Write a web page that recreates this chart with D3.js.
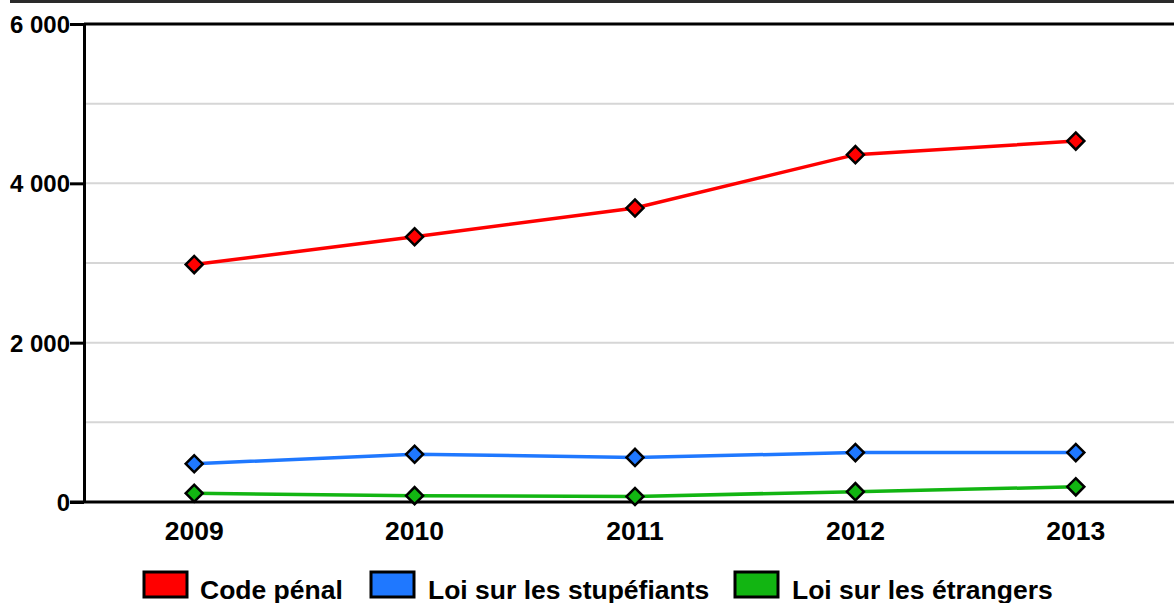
<!DOCTYPE html>
<html>
<head>
<meta charset="utf-8">
<script src="https://cdn.jsdelivr.net/npm/d3@7"></script>
<style>
  html, body { margin: 0; padding: 0; background: #fff; }
  svg { display: block; font-family: "Liberation Sans", Arial, sans-serif; }
</style>
</head>
<body>
<svg id="chart" width="1174" height="603"></svg>
<script>
// Years on the horizontal axis
const years = ["2009", "2010", "2011", "2012", "2013"];

// Series values (number of cases per year)
const codePenal = [2980, 3330, 3690, 4360, 4530];
const loiStupefiants = [480, 600, 560, 620, 620];
const loiEtrangers = [110, 80, 70, 130, 190];

const seriesNames = ["Code pénal", "Loi sur les stupéfiants", "Loi sur les étrangers"];
const seriesColors = ["#ff0000", "#1f78ff", "#12b512"];

// Axis ticks
const yTickValues = [0, 2000, 4000, 6000];
const yGridValues = [1000, 2000, 3000, 4000, 5000];

const series = [codePenal, loiStupefiants, loiEtrangers].map((vals, i) => ({
  name: seriesNames[i],
  color: seriesColors[i],
  values: vals.map((v, j) => ({ year: years[j], value: v }))
}));

const svg = d3.select("#chart");
const W = 1174;
const plotLeft = 84, plotTop = 24, plotBottom = 502, plotRight = 1186;

const x = d3.scalePoint().domain(years).range([plotLeft, plotRight]).padding(0.5);
const y = d3.scaleLinear().domain([0, 6000]).range([plotBottom, plotTop]);

const fr = d3.formatLocale({ decimal: ",", thousands: " ", grouping: [3], currency: ["", " €"] });
const fmt = fr.format(",d");

// top frame rule
svg.append("line")
  .attr("x1", 10).attr("x2", W).attr("y1", 1.5).attr("y2", 1.5)
  .attr("stroke", "#2a2a2a").attr("stroke-width", 3);

// light horizontal grid
svg.append("g").selectAll("line").data(yGridValues).join("line")
  .attr("x1", plotLeft).attr("x2", W)
  .attr("y1", d => y(d)).attr("y2", d => y(d))
  .attr("stroke", "#d6d6d6").attr("stroke-width", 2);

// upper limit rule
svg.append("line")
  .attr("x1", plotLeft).attr("x2", W).attr("y1", y(6000)).attr("y2", y(6000))
  .attr("stroke", "#000").attr("stroke-width", 3);

// y axis
const yAxis = svg.append("g")
  .attr("transform", `translate(${plotLeft},0)`)
  .call(d3.axisLeft(y).tickValues(yTickValues).tickSize(14).tickSizeOuter(0).tickFormat(fmt));
yAxis.select(".domain").attr("stroke", "#000").attr("stroke-width", 3);
yAxis.selectAll(".tick line").attr("stroke", "#000").attr("stroke-width", 3);
yAxis.selectAll(".tick text")
  .attr("x", -14).attr("dy", "0.36em")
  .attr("fill", "#000").attr("font-size", 24).attr("font-weight", "bold")
  .attr("font-family", "Liberation Sans, Arial, sans-serif");

// x baseline
svg.append("line")
  .attr("x1", 70).attr("x2", W).attr("y1", y(0)).attr("y2", y(0))
  .attr("stroke", "#000").attr("stroke-width", 3);

// x labels
svg.append("g").selectAll("text").data(years).join("text")
  .attr("x", d => x(d)).attr("y", 540)
  .attr("text-anchor", "middle")
  .attr("font-size", 26.5).attr("font-weight", "bold").attr("fill", "#000")
  .text(d => d);

// series lines
const line = d3.line().x(d => x(d.year)).y(d => y(d.value));
svg.append("g").selectAll("path").data(series).join("path")
  .attr("d", d => line(d.values))
  .attr("fill", "none")
  .attr("stroke", d => d.color)
  .attr("stroke-width", 3.5);

// diamond markers
const diamond = d3.symbol().type(d3.symbolSquare).size(145);
const mk = svg.append("g");
series.forEach(s => {
  mk.selectAll(null).data(s.values).join("path")
    .attr("d", diamond)
    .attr("transform", d => `translate(${x(d.year)},${y(d.value)}) rotate(45)`)
    .attr("fill", s.color)
    .attr("stroke", "#000")
    .attr("stroke-width", 2.5);
});

// legend
const legendItems = [
  { x: 144, tx: 200 },
  { x: 371, tx: 428 },
  { x: 735, tx: 792 }
];
const lg = svg.append("g");
series.forEach((s, i) => {
  lg.append("rect")
    .attr("x", legendItems[i].x).attr("y", 572)
    .attr("width", 43).attr("height", 25)
    .attr("fill", s.color).attr("stroke", "#000").attr("stroke-width", 3);
  lg.append("text")
    .attr("x", legendItems[i].tx).attr("y", 599)
    .attr("font-size", 26.5).attr("font-weight", "bold").attr("fill", "#000")
    .text(s.name);
});
</script>
</body>
</html>
